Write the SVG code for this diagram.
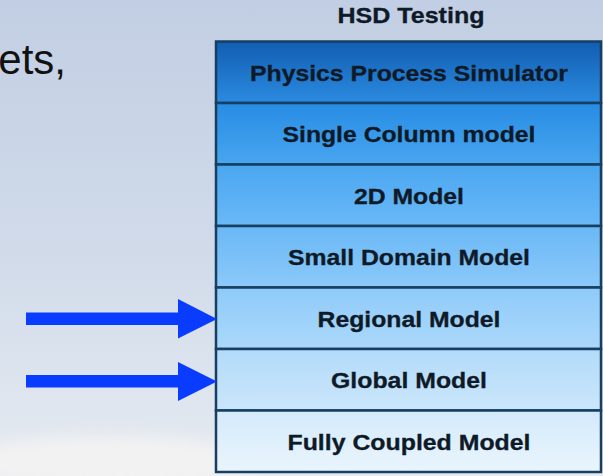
<svg xmlns="http://www.w3.org/2000/svg" width="603" height="476" viewBox="0 0 603 476">
  <defs>
    <linearGradient id="sky" x1="0" y1="0" x2="0" y2="1">
      <stop offset="0" stop-color="#c2cee3"/>
      <stop offset="0.55" stop-color="#d1dbea"/>
      <stop offset="0.85" stop-color="#dfe6ef"/>
      <stop offset="1" stop-color="#e6eaf0"/>
    </linearGradient>
    <filter id="soft" x="-20%" y="-50%" width="140%" height="200%">
      <feGaussianBlur stdDeviation="8"/>
    </filter>
    <linearGradient id="g1" x1="0" y1="0" x2="0" y2="1">
      <stop offset="0" stop-color="#115eb2"/>
      <stop offset="1" stop-color="#2b8be0"/>
    </linearGradient>
    <linearGradient id="g2" x1="0" y1="0" x2="0" y2="1">
      <stop offset="0" stop-color="#278ce4"/>
      <stop offset="1" stop-color="#49a6f0"/>
    </linearGradient>
    <linearGradient id="g3" x1="0" y1="0" x2="0" y2="1">
      <stop offset="0" stop-color="#4aa6f0"/>
      <stop offset="1" stop-color="#6ab9f7"/>
    </linearGradient>
    <linearGradient id="g4" x1="0" y1="0" x2="0" y2="1">
      <stop offset="0" stop-color="#6ab8f6"/>
      <stop offset="1" stop-color="#8cc9f9"/>
    </linearGradient>
    <linearGradient id="g5" x1="0" y1="0" x2="0" y2="1">
      <stop offset="0" stop-color="#8ecbf9"/>
      <stop offset="1" stop-color="#acd8fa"/>
    </linearGradient>
    <linearGradient id="g6" x1="0" y1="0" x2="0" y2="1">
      <stop offset="0" stop-color="#b2dbf9"/>
      <stop offset="1" stop-color="#cbe6fb"/>
    </linearGradient>
    <linearGradient id="g7" x1="0" y1="0" x2="0" y2="1">
      <stop offset="0" stop-color="#d3eafb"/>
      <stop offset="1" stop-color="#eaf5fd"/>
    </linearGradient>
    <style>
      .row { stroke: #163f62; stroke-width: 2.5; }
      .lbl { font-family: "Liberation Sans", Arial, sans-serif; font-weight: bold; font-size: 21.5px; fill: #0f1a28; stroke: #0f1a28; stroke-width: 0.3; text-anchor: middle; }
      .arrow { fill: #0a3cff; }
    </style>
  </defs>

  <!-- background sky -->
  <rect x="0" y="0" width="603" height="476" fill="url(#sky)"/>
  <ellipse cx="110" cy="462" rx="150" ry="26" fill="#f4f3f3" opacity="0.9" filter="url(#soft)"/>

  <!-- slide body text fragment -->
  <text x="66" y="74" font-family="'Liberation Sans', Arial, sans-serif" font-size="42" fill="#111" text-anchor="end">ets,</text>

  <!-- heading -->
  <text class="lbl" x="411" y="23" font-size="19.5" textLength="147" lengthAdjust="spacingAndGlyphs">HSD Testing</text>

  <!-- stack of model levels -->
  <g id="physics-process-simulator">
    <rect class="row" x="216" y="41.5" width="385" height="61.5" fill="url(#g1)"/>
    <text class="lbl" x="409" y="80.5" textLength="318" lengthAdjust="spacingAndGlyphs">Physics Process Simulator</text>
  </g>
  <g id="single-column-model">
    <rect class="row" x="216" y="103" width="385" height="61.5" fill="url(#g2)"/>
    <text class="lbl" x="409" y="142" textLength="253" lengthAdjust="spacingAndGlyphs">Single Column model</text>
  </g>
  <g id="model-2d">
    <rect class="row" x="216" y="164.5" width="385" height="61.5" fill="url(#g3)"/>
    <text class="lbl" x="409" y="203.5" textLength="110" lengthAdjust="spacingAndGlyphs">2D Model</text>
  </g>
  <g id="small-domain-model">
    <rect class="row" x="216" y="226" width="385" height="61.5" fill="url(#g4)"/>
    <text class="lbl" x="409" y="265" textLength="242" lengthAdjust="spacingAndGlyphs">Small Domain Model</text>
  </g>
  <g id="regional-model">
    <rect class="row" x="216" y="287.5" width="385" height="61.5" fill="url(#g5)"/>
    <text class="lbl" x="409" y="326.5" textLength="183" lengthAdjust="spacingAndGlyphs">Regional Model</text>
  </g>
  <g id="global-model">
    <rect class="row" x="216" y="349" width="385" height="61.5" fill="url(#g6)"/>
    <text class="lbl" x="409" y="388" textLength="156" lengthAdjust="spacingAndGlyphs">Global Model</text>
  </g>
  <g id="fully-coupled-model">
    <rect class="row" x="216" y="410.5" width="385" height="61.5" fill="url(#g7)"/>
    <text class="lbl" x="409" y="449.5" textLength="243" lengthAdjust="spacingAndGlyphs">Fully Coupled Model</text>
  </g>

  <!-- arrows pointing at the regional and global levels -->
  <g id="connectors">
    <polygon class="arrow" points="26,312.5 178,312.5 178,299 217,319 178,338.5 178,325 26,325"/>
    <polygon class="arrow" points="26,375 178,375 178,362 217,381.5 178,401 178,387.5 26,387.5"/>
  </g>
</svg>
